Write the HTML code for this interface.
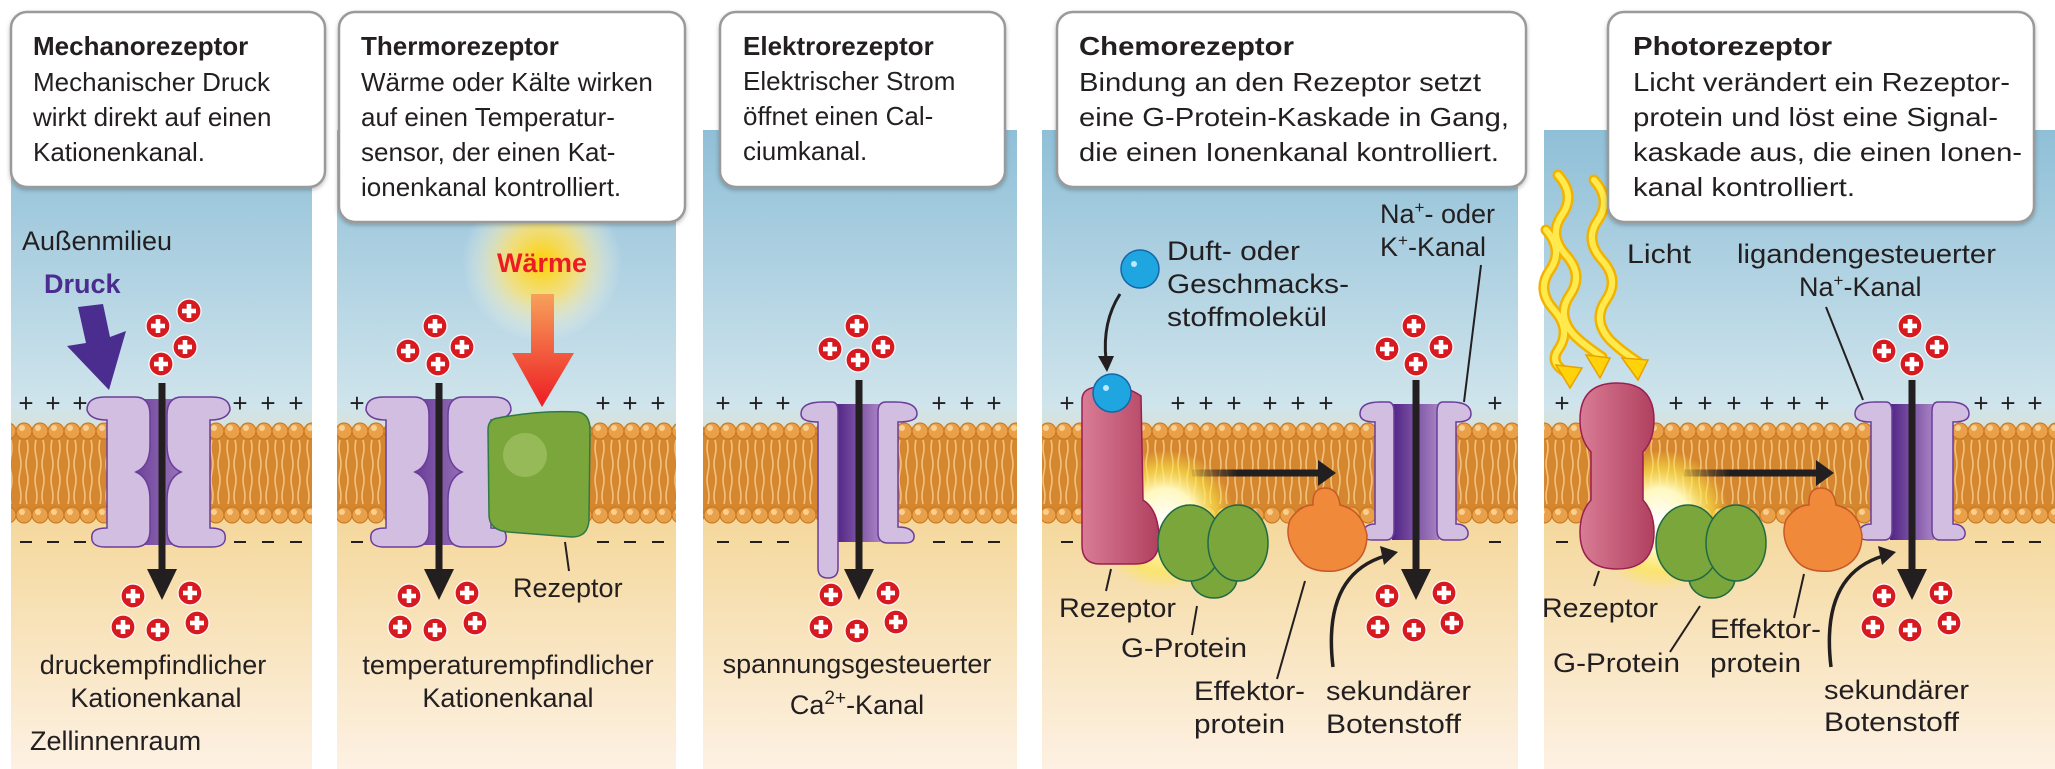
<!DOCTYPE html>
<html><head><meta charset="utf-8"><style>html,body{margin:0;padding:0;background:#fff}svg{display:block}</style></head><body>
<svg width="2055" height="769" viewBox="0 0 2055 769" xmlns="http://www.w3.org/2000/svg" font-family="'Liberation Sans', sans-serif">
<defs>
<linearGradient id="env" x1="0" y1="0" x2="0" y2="1" gradientUnits="userSpaceOnUse" x1v="0">
</linearGradient>
<linearGradient id="bg" x1="0" y1="130" x2="0" y2="769" gradientUnits="userSpaceOnUse">
<stop offset="0" stop-color="#8fbfd7"/><stop offset="0.43" stop-color="#cfe4ec"/><stop offset="0.6" stop-color="#f4d79a"/><stop offset="1" stop-color="#fdf1e3"/>
</linearGradient>
<pattern id="heads" x="0" y="0" width="16" height="769" patternUnits="userSpaceOnUse">
<rect x="0" y="431" width="16" height="84" fill="#d5872f"/>
<path d="M4,440 q-2,8 0,16 q2,8 0,16 q-2,8 0,16 q2,8 0,16" stroke="#f2c17a" stroke-width="1.6" fill="none"/>
<path d="M11,440 q2,8 0,16 q-2,8 0,16 q2,8 0,16 q-2,8 0,16" stroke="#f2c17a" stroke-width="1.6" fill="none"/>
<circle cx="8" cy="431" r="8" fill="#eaa048" stroke="#c4741c" stroke-width="1"/>
<circle cx="8" cy="515" r="8" fill="#eaa048" stroke="#c4741c" stroke-width="1"/>
<circle cx="6" cy="428" r="3" fill="#f8cf8f"/><circle cx="6" cy="512" r="3" fill="#f8cf8f"/>
</pattern>
<linearGradient id="dark" x1="0" y1="0" x2="1" y2="0"><stop offset="0" stop-color="#4f2385"/><stop offset="1" stop-color="#a984c4"/></linearGradient>
<radialGradient id="sun"><stop offset="0" stop-color="#ffd000"/><stop offset="0.45" stop-color="#ffe26b" stop-opacity="0.8"/><stop offset="1" stop-color="#fff" stop-opacity="0"/></radialGradient>
<radialGradient id="glow"><stop offset="0" stop-color="#fff"/><stop offset="0.45" stop-color="#fff8c0"/><stop offset="0.75" stop-color="#fde84a" stop-opacity="0.6"/><stop offset="1" stop-color="#fde84a" stop-opacity="0"/></radialGradient>
<linearGradient id="redsh" x1="0" y1="0" x2="0" y2="1"><stop offset="0" stop-color="#f7a15a"/><stop offset="1" stop-color="#ed1c24"/></linearGradient>
<linearGradient id="pink" x1="0" y1="0" x2="1" y2="0"><stop offset="0" stop-color="#d97c95"/><stop offset="1" stop-color="#b0405f"/></linearGradient>
<linearGradient id="fade" x1="0" y1="0" x2="1" y2="0"><stop offset="0" stop-color="#231f20" stop-opacity="0.1"/><stop offset="0.35" stop-color="#231f20"/></linearGradient>
<g id="ion"><circle r="12" fill="#d71920" stroke="#fff" stroke-width="1.2"/><rect x="-7" y="-2.3" width="14" height="4.6" fill="#fff"/><rect x="-2.3" y="-7" width="4.6" height="14" fill="#fff"/></g>
<filter id="sh" x="-5%" y="-5%" width="110%" height="115%"><feDropShadow dx="0" dy="2" stdDeviation="2" flood-opacity="0.25"/></filter>
</defs>

<!-- panel backgrounds -->
<rect x="11" y="130" width="301" height="639" fill="url(#bg)"/>
<rect x="337" y="130" width="339" height="639" fill="url(#bg)"/>
<rect x="703" y="130" width="314" height="639" fill="url(#bg)"/>
<rect x="1042" y="130" width="476" height="639" fill="url(#bg)"/>
<rect x="1544" y="130" width="511" height="639" fill="url(#bg)"/>
<!-- membranes -->
<g fill="url(#heads)">
<rect x="11" y="422" width="301" height="102"/>
<rect x="337" y="422" width="339" height="102"/>
<rect x="703" y="422" width="314" height="102"/>
<rect x="1042" y="422" width="476" height="102"/>
<rect x="1544" y="422" width="511" height="102"/>
</g>

<!-- plus / minus -->
<g font-size="26" fill="#231f20" text-anchor="middle">
<text x="26" y="412">+</text><text x="53" y="412">+</text><text x="80" y="412">+</text>
<text x="240" y="412">+</text><text x="268" y="412">+</text><text x="296" y="412">+</text>
<text x="357" y="412">+</text><text x="603" y="412">+</text><text x="630" y="412">+</text><text x="658" y="412">+</text>
<text x="723" y="412">+</text><text x="756" y="412">+</text><text x="783" y="412">+</text><text x="939" y="412">+</text><text x="967" y="412">+</text><text x="994" y="412">+</text>
<text x="1067" y="412">+</text><text x="1178" y="412">+</text><text x="1206" y="412">+</text><text x="1234" y="412">+</text><text x="1270" y="412">+</text><text x="1298" y="412">+</text><text x="1326" y="412">+</text><text x="1495" y="412">+</text>
<text x="1562" y="412">+</text><text x="1676" y="412">+</text><text x="1705" y="412">+</text><text x="1734" y="412">+</text><text x="1767" y="412">+</text><text x="1794" y="412">+</text><text x="1822" y="412">+</text><text x="1981" y="412">+</text><text x="2008" y="412">+</text><text x="2035" y="412">+</text>
</g>
<g stroke="#231f20" stroke-width="2">
<path d="M20,542h12M47,542h12M74,542h12M234,542h12M262,542h12M290,542h12"/>
<path d="M351,542h12M597,542h12M624,542h12M652,542h12"/>
<path d="M717,542h12M750,542h12M777,542h12M933,542h12M961,542h12M988,542h12"/>
<path d="M1061,542h12M1489,542h12"/>
<path d="M1556,542h12M1975,542h12M2002,542h12M2029,542h12"/>
</g>

<!-- Panel 1 channel -->
<g stroke="#6b3d9a" stroke-width="1.5">
<rect x="107" y="399" width="89" height="146" fill="url(#dark)" stroke="none"/>
<path id="lp1" d="M87,410 Q87,397 105,397 L135,397 Q150,397 150,415 L150,445 Q150,466 136,472 Q150,478 150,500 L150,530 Q150,547 135,547 L105,547 Q90,547 92,535 Q93,528 107,528 L107,420 Q90,420 87,410 Z" fill="#d1bee0"/>
<path d="M230,410 Q230,397 212,397 L182,397 Q167,397 167,415 L167,445 Q167,466 181,472 Q167,478 167,500 L167,530 Q167,547 182,547 L212,547 Q227,547 225,535 Q224,528 210,528 L210,420 Q227,420 230,410 Z" fill="#d1bee0"/>
</g>
<line x1="162" y1="383" x2="162" y2="572" stroke="#231f20" stroke-width="7"/>
<polygon points="147,569 177,569 162,600" fill="#231f20"/>
<polygon points="78,307 103,304 110,337 126,331 109,390 67,346 86,343" fill="#4a2d8e"/>

<!-- Panel 2 -->
<circle cx="542" cy="262" r="80" fill="url(#sun)"/>
<g stroke="#6b3d9a" stroke-width="1.5">
<rect x="386" y="399" width="100" height="146" fill="url(#dark)" stroke="none"/>
<path d="M366,410 Q366,397 384,397 L414,397 Q429,397 429,415 L429,445 Q429,466 415,472 Q429,478 429,500 L429,530 Q429,547 414,547 L384,547 Q369,547 371,535 Q372,528 386,528 L386,420 Q369,420 366,410 Z" fill="#d1bee0"/>
<path d="M511,410 Q511,397 493,397 L463,397 Q448,397 448,415 L448,445 Q448,466 462,472 Q448,478 448,500 L448,530 Q448,547 463,547 L493,547 Q508,547 506,535 Q505,528 491,528 L491,420 Q508,420 511,410 Z" fill="#d1bee0"/>
</g>
<line x1="439" y1="383" x2="439" y2="572" stroke="#231f20" stroke-width="7"/>
<polygon points="424,569 454,569 439,600" fill="#231f20"/>
<path d="M498,418 Q540,410 578,412 Q590,414 590,430 L589,520 Q588,537 572,537 L508,532 Q489,530 489,515 L488,430 Q488,419 498,418 Z" fill="#7ba63c" stroke="#2e7a46" stroke-width="1.5"/>
<ellipse cx="525" cy="455" rx="22" ry="22" fill="#a9c86a" opacity="0.6"/>
<polygon points="531,294 554,294 554,353 574,353 542,407 512,353 531,353" fill="url(#redsh)"/>
<line x1="565" y1="542" x2="569" y2="571" stroke="#231f20" stroke-width="2"/>

<!-- Panel 3 -->
<g stroke="#6b3d9a" stroke-width="1.5">
<rect x="836" y="404" width="44" height="138" fill="url(#dark)" stroke="none"/>
<path d="M801,414 Q801,402 823,402 L832,402 Q838,402 838,412 L838,568 Q838,578 828,578 Q818,578 818,568 L818,422 Q801,422 801,414 Z" fill="#d1bee0"/>
<path d="M917,414 Q917,402 895,402 L886,402 Q878,402 878,412 L878,533 Q878,543 888,543 L905,543 Q915,543 914,535 Q912,527 898,527 L898,422 Q917,422 917,414 Z" fill="#d1bee0"/>
</g>
<line x1="859" y1="380" x2="859" y2="572" stroke="#231f20" stroke-width="7"/>
<polygon points="844,569 874,569 859,600" fill="#231f20"/>

<!-- Panel 4 -->
<circle cx="1165" cy="520" r="70" fill="url(#glow)"/>
<g stroke="#6b3d9a" stroke-width="1.5">
<rect x="1392" y="404" width="47" height="136" fill="url(#dark)" stroke="none"/>
<path d="M1360,414 Q1360,402 1380,402 L1388,402 Q1394,402 1394,412 L1394,530 Q1394,540 1386,540 L1372,540 Q1362,540 1363,532 Q1365,524 1375,524 L1375,422 Q1360,422 1360,414 Z" fill="#d1bee0"/>
<path d="M1471,414 Q1471,402 1451,402 L1443,402 Q1437,402 1437,412 L1437,530 Q1437,540 1445,540 L1459,540 Q1469,540 1468,532 Q1466,524 1456,524 L1456,422 Q1471,422 1471,414 Z" fill="#d1bee0"/>
</g>
<line x1="1416" y1="380" x2="1416" y2="572" stroke="#231f20" stroke-width="7"/>
<polygon points="1401,569 1431,569 1416,600" fill="#231f20"/>
<path d="M1082,400 Q1082,387 1100,387 Q1124,384 1141,396 L1143,500 Q1159,510 1159,540 Q1159,564 1135,564 L1100,564 Q1082,564 1082,545 Z" fill="url(#pink)" stroke="#9a1f50" stroke-width="1.5"/>
<circle cx="1112" cy="393" r="19" fill="#1fa6e0" stroke="#1467a8" stroke-width="1.5"/>
<circle cx="1106" cy="388" r="3" fill="#bfe8fb"/>
<circle cx="1140" cy="269" r="19" fill="#1fa6e0" stroke="#1467a8" stroke-width="1.5"/>
<circle cx="1134" cy="264" r="3" fill="#bfe8fb"/>
<path d="M1120,294 Q1102,322 1106,360" stroke="#231f20" stroke-width="3" fill="none"/>
<polygon points="1098,356 1114,356 1107,372" fill="#231f20"/>
<g fill="#7ba63c" stroke="#1f6a45" stroke-width="1.5">
<ellipse cx="1214" cy="578" rx="23" ry="20"/>
<ellipse cx="1190" cy="543" rx="32" ry="38"/>
<ellipse cx="1238" cy="543" rx="30" ry="38"/>
</g>
<path d="M1300,560 Q1283,540 1290,520 Q1300,505 1313,505 Q1312,488 1325,488 Q1338,488 1340,505 Q1362,510 1367,535 Q1367,565 1335,571 Q1310,573 1300,560Z" fill="#f08a3a" stroke="#c8572a" stroke-width="1.5"/>
<rect x="1192" y="469.5" width="130" height="7" fill="url(#fade)"/>
<polygon points="1318,460 1336,473 1318,486" fill="#231f20"/>
<path d="M1333,667 Q1322,575 1385,556" stroke="#231f20" stroke-width="3.5" fill="none"/>
<polygon points="1380,546 1398,552 1384,565" fill="#231f20"/>
<g stroke="#231f20" stroke-width="2">
<line x1="1481" y1="265" x2="1464" y2="402"/>
<line x1="1111" y1="569" x2="1106" y2="591"/>
<line x1="1197" y1="606" x2="1192" y2="635"/>
<line x1="1305" y1="581" x2="1277" y2="679"/>
</g>

<!-- Panel 5 -->
<circle cx="1660" cy="520" r="70" fill="url(#glow)"/>
<g stroke="#6b3d9a" stroke-width="1.5">
<rect x="1890" y="404" width="44" height="136" fill="url(#dark)" stroke="none"/>
<path d="M1855,414 Q1855,402 1875,402 L1886,402 Q1892,402 1892,412 L1892,530 Q1892,540 1884,540 L1868,540 Q1858,540 1859,532 Q1861,524 1871,524 L1871,422 Q1855,422 1855,414 Z" fill="#d1bee0"/>
<path d="M1969,414 Q1969,402 1949,402 L1938,402 Q1932,402 1932,412 L1932,530 Q1932,540 1940,540 L1956,540 Q1966,540 1965,532 Q1963,524 1953,524 L1953,422 Q1969,422 1969,414 Z" fill="#d1bee0"/>
</g>
<line x1="1912" y1="380" x2="1912" y2="572" stroke="#231f20" stroke-width="7"/>
<polygon points="1897,569 1927,569 1912,600" fill="#231f20"/>
<path d="M1617,383 Q1654,383 1654,420 Q1654,440 1643,452 L1643,500 Q1654,512 1654,532 Q1654,569 1617,569 Q1580,569 1580,532 Q1580,512 1591,500 L1591,452 Q1580,440 1580,420 Q1580,383 1617,383 Z" fill="url(#pink)" stroke="#9a1f50" stroke-width="1.5"/>
<g fill="#7ba63c" stroke="#1f6a45" stroke-width="1.5">
<ellipse cx="1712" cy="578" rx="23" ry="20"/>
<ellipse cx="1688" cy="543" rx="32" ry="38"/>
<ellipse cx="1736" cy="543" rx="30" ry="38"/>
</g>
<path d="M1796,560 Q1779,540 1786,520 Q1796,505 1809,505 Q1808,488 1821,488 Q1834,488 1836,505 Q1858,510 1862,535 Q1862,565 1831,571 Q1806,573 1796,560Z" fill="#f08a3a" stroke="#c8572a" stroke-width="1.5"/>
<rect x="1683" y="469.5" width="135" height="7" fill="url(#fade)"/>
<polygon points="1816,460 1834,473 1816,486" fill="#231f20"/>
<path d="M1831,667 Q1820,575 1883,556" stroke="#231f20" stroke-width="3.5" fill="none"/>
<polygon points="1878,546 1896,552 1882,565" fill="#231f20"/>
<!-- light -->
<g fill="none" stroke-linecap="round">
<g stroke="#f2b200" stroke-width="11">
<path d="M1546,230 q18,20 4,40 q-14,20 4,40 q18,20 4,40 q-10,15 14,25"/>
<path d="M1558,175 q18,20 4,40 q-14,20 4,40 q18,20 4,40 q-14,20 4,40 q10,10 28,22"/>
<path d="M1594,180 q18,20 4,40 q-14,20 4,40 q18,20 4,40 q-14,20 4,40 q10,10 28,22"/>
</g>
<g stroke="#ffe94d" stroke-width="6">
<path d="M1546,230 q18,20 4,40 q-14,20 4,40 q18,20 4,40 q-10,15 14,25"/>
<path d="M1558,175 q18,20 4,40 q-14,20 4,40 q18,20 4,40 q-14,20 4,40 q10,10 28,22"/>
<path d="M1594,180 q18,20 4,40 q-14,20 4,40 q18,20 4,40 q-14,20 4,40 q10,10 28,22"/>
</g>
</g>
<g fill="#ffd20a" stroke="#e8a200" stroke-width="1.5">
<polygon points="1556,365 1582,368 1570,388"/>
<polygon points="1586,355 1610,358 1600,378"/>
<polygon points="1622,358 1648,360 1638,380"/>
</g>
<g stroke="#231f20" stroke-width="2">
<line x1="1826" y1="307" x2="1863" y2="400"/>
<line x1="1599" y1="571" x2="1594" y2="586"/>
<line x1="1700" y1="606" x2="1670" y2="652"/>
<line x1="1804" y1="574" x2="1794" y2="618"/>
</g>

<!-- ions -->
<g>
<use href="#ion" x="189" y="311"/><use href="#ion" x="158" y="326"/><use href="#ion" x="185" y="347"/><use href="#ion" x="161" y="364"/>
<use href="#ion" x="133" y="596"/><use href="#ion" x="190" y="593"/><use href="#ion" x="123" y="627"/><use href="#ion" x="158" y="630"/><use href="#ion" x="197" y="623"/>
<use href="#ion" x="435" y="326"/><use href="#ion" x="408" y="351"/><use href="#ion" x="462" y="347"/><use href="#ion" x="438" y="364"/>
<use href="#ion" x="409" y="596"/><use href="#ion" x="467" y="593"/><use href="#ion" x="400" y="627"/><use href="#ion" x="435" y="630"/><use href="#ion" x="475" y="623"/>
<use href="#ion" x="857" y="326"/><use href="#ion" x="830" y="349"/><use href="#ion" x="883" y="347"/><use href="#ion" x="858" y="360"/>
<use href="#ion" x="831" y="595"/><use href="#ion" x="888" y="593"/><use href="#ion" x="821" y="627"/><use href="#ion" x="857" y="631"/><use href="#ion" x="896" y="622"/>
<use href="#ion" x="1414" y="326"/><use href="#ion" x="1387" y="349"/><use href="#ion" x="1441" y="347"/><use href="#ion" x="1416" y="364"/>
<use href="#ion" x="1387" y="596"/><use href="#ion" x="1444" y="593"/><use href="#ion" x="1378" y="627"/><use href="#ion" x="1414" y="630"/><use href="#ion" x="1452" y="623"/>
<use href="#ion" x="1910" y="326"/><use href="#ion" x="1884" y="351"/><use href="#ion" x="1937" y="347"/><use href="#ion" x="1912" y="364"/>
<use href="#ion" x="1884" y="596"/><use href="#ion" x="1941" y="593"/><use href="#ion" x="1873" y="627"/><use href="#ion" x="1910" y="630"/><use href="#ion" x="1949" y="623"/>
</g>

<!-- boxes -->
<g fill="#fff" stroke="#9a9a9a" stroke-width="2.5" filter="url(#sh)">
<rect x="11" y="12" width="314" height="175" rx="16"/>
<rect x="339" y="12" width="346" height="210" rx="16"/>
<rect x="720" y="12" width="285" height="175" rx="16"/>
<rect x="1057" y="12" width="469" height="175" rx="16"/>
<rect x="1608" y="12" width="426" height="210" rx="16"/>
</g>

<g font-size="26" fill="#231f20">
<text x="33" y="55" font-weight="bold">Mechanorezeptor</text>
<text x="33" y="91">Mechanischer Druck</text>
<text x="33" y="126">wirkt direkt auf einen</text>
<text x="33" y="161">Kationenkanal.</text>

<text x="361" y="55" font-weight="bold">Thermorezeptor</text>
<text x="361" y="91">Wärme oder Kälte wirken</text>
<text x="361" y="126">auf einen Temperatur-</text>
<text x="361" y="161">sensor, der einen Kat-</text>
<text x="361" y="196">ionenkanal kontrolliert.</text>

<text x="743" y="55" font-weight="bold">Elektrorezeptor</text>
<text x="743" y="90">Elektrischer Strom</text>
<text x="743" y="125">öffnet einen Cal-</text>
<text x="743" y="160">ciumkanal.</text>

<text x="1079" y="55" font-weight="bold" textLength="215" lengthAdjust="spacingAndGlyphs">Chemorezeptor</text>
<text x="1079" y="91" textLength="402" lengthAdjust="spacingAndGlyphs">Bindung an den Rezeptor setzt</text>
<text x="1079" y="126" textLength="430" lengthAdjust="spacingAndGlyphs">eine G-Protein-Kaskade in Gang,</text>
<text x="1079" y="161" textLength="420" lengthAdjust="spacingAndGlyphs">die einen Ionenkanal kontrolliert.</text>

<text x="1633" y="55" font-weight="bold" textLength="199" lengthAdjust="spacingAndGlyphs">Photorezeptor</text>
<text x="1633" y="91" textLength="377" lengthAdjust="spacingAndGlyphs">Licht verändert ein Rezeptor-</text>
<text x="1633" y="126" textLength="365" lengthAdjust="spacingAndGlyphs">protein und löst eine Signal-</text>
<text x="1633" y="161" textLength="389" lengthAdjust="spacingAndGlyphs">kaskade aus, die einen Ionen-</text>
<text x="1633" y="196" textLength="222" lengthAdjust="spacingAndGlyphs">kanal kontrolliert.</text>
</g>

<!-- labels -->
<g font-size="27" fill="#231f20">
<text x="22" y="250">Außenmilieu</text>
<text x="44" y="293" font-weight="bold" fill="#4a2d8e">Druck</text>
<text x="153" y="674" text-anchor="middle">druckempfindlicher</text>
<text x="156" y="707" text-anchor="middle">Kationenkanal</text>
<text x="30" y="750">Zellinnenraum</text>

<text x="542" y="272" text-anchor="middle" font-weight="bold" fill="#ed1c24">Wärme</text>
<text x="513" y="597">Rezeptor</text>
<text x="508" y="674" text-anchor="middle">temperaturempfindlicher</text>
<text x="508" y="707" text-anchor="middle">Kationenkanal</text>

<text x="857" y="673" text-anchor="middle">spannungsgesteuerter</text>
<text x="857" y="714" text-anchor="middle">Ca<tspan font-size="19" dy="-10">2+</tspan><tspan dy="10">-Kanal</tspan></text>

<text x="1167" y="260" textLength="133" lengthAdjust="spacingAndGlyphs">Duft- oder</text>
<text x="1167" y="293" textLength="182" lengthAdjust="spacingAndGlyphs">Geschmacks-</text>
<text x="1167" y="326" textLength="160" lengthAdjust="spacingAndGlyphs">stoffmolekül</text>
<text x="1380" y="223">Na<tspan font-size="17" dy="-10">+</tspan><tspan dy="10">- oder</tspan></text>
<text x="1380" y="256">K<tspan font-size="17" dy="-10">+</tspan><tspan dy="10">-Kanal</tspan></text>
<text x="1059" y="617" textLength="117" lengthAdjust="spacingAndGlyphs">Rezeptor</text>
<text x="1121" y="657" textLength="126" lengthAdjust="spacingAndGlyphs">G-Protein</text>
<text x="1194" y="700" textLength="111" lengthAdjust="spacingAndGlyphs">Effektor-</text>
<text x="1194" y="733" textLength="91" lengthAdjust="spacingAndGlyphs">protein</text>
<text x="1326" y="700" textLength="145" lengthAdjust="spacingAndGlyphs">sekundärer</text>
<text x="1326" y="733" textLength="135" lengthAdjust="spacingAndGlyphs">Botenstoff</text>

<text x="1627" y="263" textLength="64" lengthAdjust="spacingAndGlyphs">Licht</text>
<text x="1737" y="263" textLength="259" lengthAdjust="spacingAndGlyphs">ligandengesteuerter</text>
<text x="1799" y="296">Na<tspan font-size="17" dy="-10">+</tspan><tspan dy="10">-Kanal</tspan></text>
<text x="1542" y="617" textLength="116" lengthAdjust="spacingAndGlyphs">Rezeptor</text>
<text x="1553" y="672" textLength="127" lengthAdjust="spacingAndGlyphs">G-Protein</text>
<text x="1710" y="638" textLength="111" lengthAdjust="spacingAndGlyphs">Effektor-</text>
<text x="1710" y="672" textLength="91" lengthAdjust="spacingAndGlyphs">protein</text>
<text x="1824" y="699" textLength="145" lengthAdjust="spacingAndGlyphs">sekundärer</text>
<text x="1824" y="731" textLength="135" lengthAdjust="spacingAndGlyphs">Botenstoff</text>
</g>
</svg>
</body></html>
